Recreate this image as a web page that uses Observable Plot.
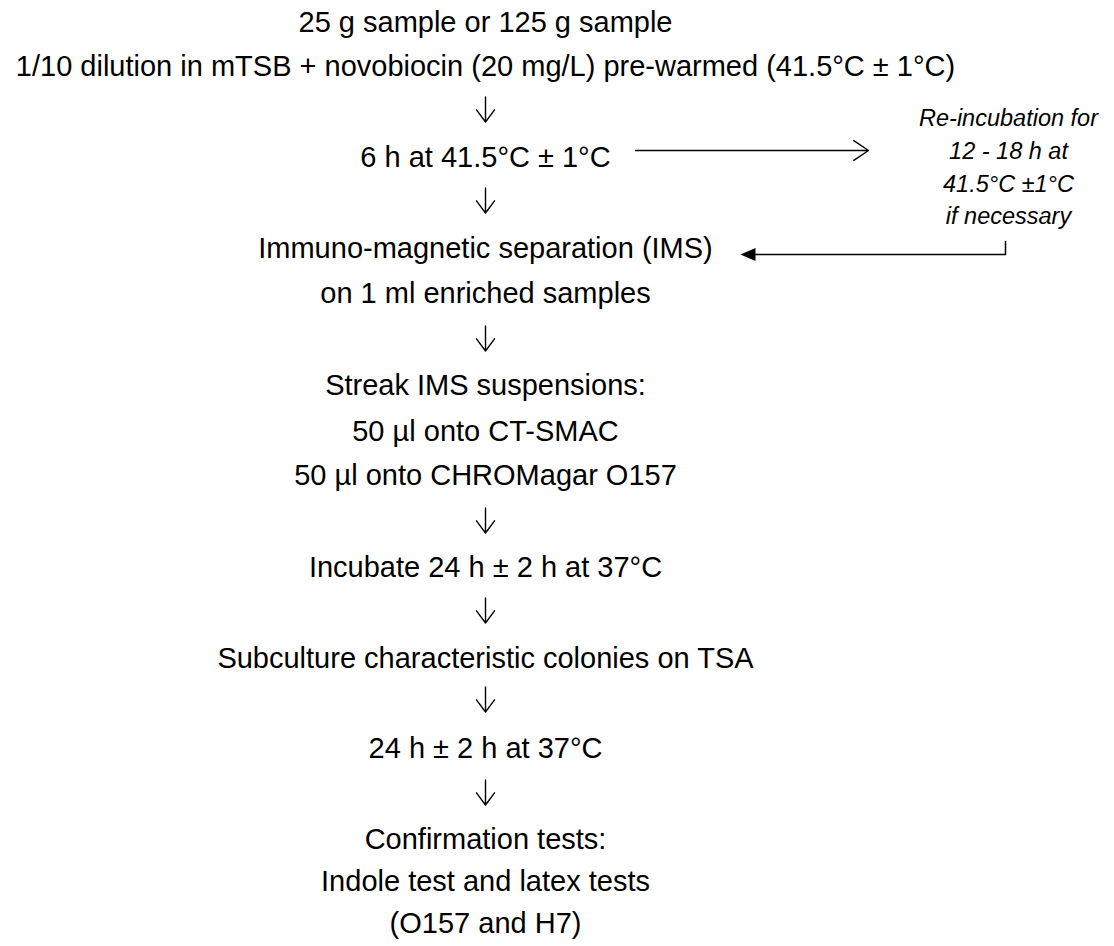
<!DOCTYPE html>
<html>
<head>
<meta charset="utf-8">
<script src="https://cdn.jsdelivr.net/npm/d3@7"></script>
<script src="https://cdn.jsdelivr.net/npm/@observablehq/plot@0.6"></script>
<style>
  html, body { margin: 0; padding: 0; background: #fff; }
  svg { display: block; }
</style>
</head>
<body>
<div id="chart"></div>
<script>
// Flow steps (main column), top to bottom; "↓" marks a down-arrow step
const steps = [
  "25 g sample or 125 g sample",
  "1/10 dilution in mTSB + novobiocin (20 mg/L) pre-warmed (41.5°C ± 1°C)",
  "↓",
  "6 h at 41.5°C ± 1°C",
  "↓",
  "Immuno-magnetic separation (IMS)",
  "on 1 ml enriched samples",
  "↓",
  "Streak IMS suspensions:",
  "50 µl onto CT-SMAC",
  "50 µl onto CHROMagar O157",
  "↓",
  "Incubate 24 h ± 2 h at 37°C",
  "↓",
  "Subculture characteristic colonies on TSA",
  "↓",
  "24 h ± 2 h at 37°C",
  "↓",
  "Confirmation tests:",
  "Indole test and latex tests",
  "(O157 and H7)"
];
// vertical level of each step (chart units, top = 0)
const stepLevel = [21, 65, 109, 156, 200, 247, 292, 338, 384, 430, 474, 520, 566, 610, 657, 699, 747, 792, 838, 880, 922];
// horizontal centre of the main column
const mainCentre = 485;

// Side note (optional re-incubation loop)
const noteLines = ["Re-incubation for", "12 - 18 h at", "41.5°C ±1°C", "if necessary"];
const noteLevel = [118, 151, 184, 216];
const noteCentre = 1008;

// Loop connectors: out from the "6 h" step to the note, and back into the IMS step
const loopOut = [{x1: 635, y1: 150, x2: 868, y2: 150}];
const loopBack = [[1005, 241], [1005, 254], [754, 254]];
const loopBackTip = [{x: 740, y: 254}];

const mainData = steps.map((t, i) => ({text: t, y: stepLevel[i], x: mainCentre, arrow: t === "↓"}));
const noteData = noteLines.map((t, i) => ({text: t, y: noteLevel[i], x: noteCentre}));

// open-headed down arrow glyph drawn as a vector shape
const downArrow = {
  draw(ctx, l, r) {
    ctx.moveTo(0, 0); ctx.lineTo(0, -l);
    ctx.moveTo(-r, -l + r * 1.35); ctx.lineTo(0, -l); ctx.lineTo(r, -l + r * 1.35);
  }
};
// filled triangular head
const filledHead = {
  draw(ctx, l, r) {
    ctx.moveTo(0, 0); ctx.lineTo(-r, l); ctx.lineTo(r, l); ctx.closePath();
  }
};

const chart = Plot.plot({
  width: 1114,
  height: 946,
  margin: 0,
  x: {domain: [0, 1114], range: [0, 1114], axis: null},
  y: {domain: [0, 946], range: [0, 946], axis: null},
  style: {fontFamily: "'Liberation Sans', Arial, sans-serif", background: "#fff"},
  marks: [
    Plot.text(mainData.filter(d => !d.arrow), {
      x: "x", y: "y", text: "text", dy: 1,
      fontSize: 29, fill: "#000", textAnchor: "middle", lineAnchor: "middle"
    }),
    Plot.vector(mainData.filter(d => d.arrow), {
      x: "x", y: "y", length: 25, r: 9, rotate: 180, anchor: "middle",
      shape: downArrow, stroke: "#000", strokeWidth: 1.4
    }),
    Plot.text(noteData, {
      x: "x", y: "y", text: "text",
      fontSize: 23.5, fontStyle: "italic", fill: "#000", textAnchor: "middle", lineAnchor: "middle"
    }),
    Plot.arrow(loopOut, {
      x1: "x1", y1: "y1", x2: "x2", y2: "y2",
      stroke: "#000", strokeWidth: 1.4, headLength: 19, headAngle: 68
    }),
    Plot.line(loopBack, {x: d => d[0], y: d => d[1], stroke: "#000", strokeWidth: 1.5}),
    Plot.vector(loopBackTip, {
      x: "x", y: "y", length: 15, r: 6.5, rotate: -90, anchor: "start",
      shape: filledHead, fill: "#000", stroke: "none"
    })
  ]
});
document.getElementById("chart").append(chart);
</script>
</body>
</html>
